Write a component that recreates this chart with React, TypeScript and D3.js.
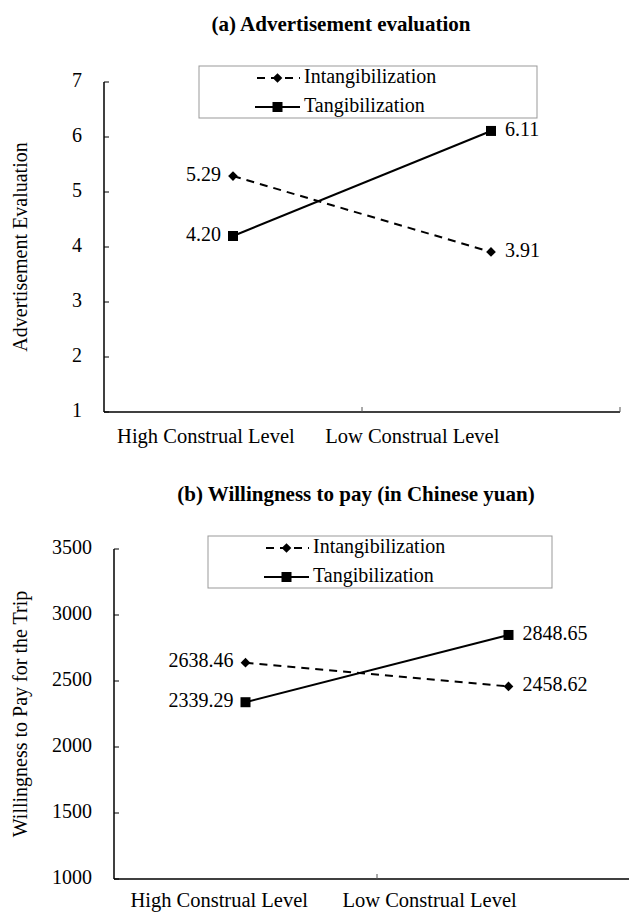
import React, { useEffect, useRef } from "react";
import * as d3 from "d3";

const categories = ["High Construal Level", "Low Construal Level"];
const seriesNames = ["Intangibilization", "Tangibilization"];

// panel (a)
const adIntangible = [5.29, 3.91];
const adTangible = [4.2, 6.11];
const adTicks = [1, 2, 3, 4, 5, 6, 7];

// panel (b)
const payIntangible = [2638.46, 2458.62];
const payTangible = [2339.29, 2848.65];
const payTicks = [1000, 1500, 2000, 2500, 3000, 3500];

const FONT = "'Liberation Serif', 'Times New Roman', serif";

const drawPanel = (svg, opt) => {
  const g = svg.append("g");
  const x = d3.scaleBand().domain(categories).range([opt.x0, opt.x1]).padding(0);
  const y = d3.scaleLinear().domain(opt.domain).range([opt.yBottom, opt.yTop]);
  const cx = d => x(d) + x.bandwidth() / 2;
  const fmt = d3.format(".2f");

  // title
  g.append("text")
    .attr("x", opt.titleX)
    .attr("y", opt.titleY)
    .attr("text-anchor", "middle")
    .attr("dominant-baseline", "middle")
    .style("font-family", FONT)
    .style("font-weight", "bold")
    .style("font-size", "21px")
    .text(opt.title);

  // y axis
  g.append("line")
    .attr("x1", opt.x0).attr("x2", opt.x0)
    .attr("y1", y(opt.domain[1])).attr("y2", y(opt.domain[0]))
    .attr("stroke", "#000").attr("stroke-width", 1.5);
  g.selectAll("line.ytick").data(opt.ticks).enter().append("line")
    .attr("class", "ytick")
    .attr("x1", opt.x0).attr("x2", opt.x0 + 5)
    .attr("y1", d => y(d)).attr("y2", d => y(d))
    .attr("stroke", "#000").attr("stroke-width", 1);
  g.selectAll("text.ylab").data(opt.ticks).enter().append("text")
    .attr("class", "ylab")
    .attr("x", opt.x0 - 22)
    .attr("y", d => y(d))
    .attr("text-anchor", "end")
    .attr("dominant-baseline", "middle")
    .style("font-family", FONT)
    .style("font-size", "20px")
    .text(d => d);

  // x axis
  g.append("line")
    .attr("x1", opt.x0).attr("x2", opt.x1)
    .attr("y1", opt.yBottom).attr("y2", opt.yBottom)
    .attr("stroke", "#000").attr("stroke-width", 1.5);
  const bounds = [opt.x0 + x.bandwidth(), opt.x1];
  g.selectAll("line.xtick").data(bounds).enter().append("line")
    .attr("class", "xtick")
    .attr("x1", d => d).attr("x2", d => d)
    .attr("y1", opt.yBottom).attr("y2", opt.yBottom - 5)
    .attr("stroke", "#555").attr("stroke-width", 1);
  // category labels sit left of the band centres, as in the source
  g.selectAll("text.xlab").data(categories).enter().append("text")
    .attr("class", "xlab")
    .attr("x", (d, i) => x(d) + x.bandwidth() * opt.xLabelPos[i])
    .attr("y", opt.yBottom + opt.xLabelDy)
    .attr("text-anchor", "middle")
    .attr("dominant-baseline", "middle")
    .style("font-family", FONT)
    .style("font-size", "20.5px")
    .text(d => d);

  // y axis title
  g.append("text")
    .attr("transform", `translate(22,${(opt.yTop + opt.yBottom) / 2}) rotate(-90)`)
    .attr("text-anchor", "middle")
    .attr("dominant-baseline", "middle")
    .style("font-family", FONT)
    .style("font-size", "20px")
    .text(opt.yTitle);

  const line = d3.line().x((d, i) => cx(categories[i])).y(d => y(d));
  const series = [
    { values: opt.intangible, dash: "8,6", marker: "diamond" },
    { values: opt.tangible, dash: null, marker: "square" }
  ];

  series.forEach(s => {
    g.append("path")
      .attr("d", line(s.values))
      .attr("fill", "none")
      .attr("stroke", "#000")
      .attr("stroke-width", 2)
      .attr("stroke-dasharray", s.dash);
    s.values.forEach((v, i) => {
      const px = cx(categories[i]);
      const py = y(v);
      if (s.marker === "square") {
        g.append("rect")
          .attr("x", px - 5).attr("y", py - 5)
          .attr("width", 10).attr("height", 10)
          .attr("fill", "#000");
      } else {
        g.append("path")
          .attr("d", d3.symbol(d3.symbolDiamond2, 60)())
          .attr("transform", `translate(${px},${py})`)
          .attr("fill", "#000");
      }
      g.append("text")
        .attr("x", i === 0 ? px - 12 : px + 14)
        .attr("y", py)
        .attr("text-anchor", i === 0 ? "end" : "start")
        .attr("dominant-baseline", "middle")
        .style("font-family", FONT)
        .style("font-size", "20px")
        .text(fmt(v));
    });
  });

  // legend
  const lg = g.append("g").attr("transform", `translate(${opt.legendX},${opt.legendY})`);
  lg.append("rect")
    .attr("width", opt.legendW).attr("height", 52)
    .attr("fill", "#fff").attr("stroke", "#999").attr("stroke-width", 1);
  seriesNames.forEach((name, i) => {
    const ry = 12 + i * 29;
    lg.append("line")
      .attr("x1", 56).attr("x2", 101)
      .attr("y1", ry).attr("y2", ry)
      .attr("stroke", "#000").attr("stroke-width", 2)
      .attr("stroke-dasharray", i === 0 ? "8,6" : null)
      .attr("stroke-dashoffset", i === 0 ? -2 : 0);
    if (i === 0) {
      lg.append("path")
        .attr("d", d3.symbol(d3.symbolDiamond2, 60)())
        .attr("transform", `translate(78.5,${ry})`)
        .attr("fill", "#000");
    } else {
      lg.append("rect")
        .attr("x", 73.5).attr("y", ry - 5)
        .attr("width", 10).attr("height", 10)
        .attr("fill", "#000");
    }
    lg.append("text")
      .attr("x", 105)
      .attr("y", ry)
      .attr("dominant-baseline", "middle")
      .style("font-family", FONT)
      .style("font-size", "20px")
      .text(name);
  });
};

const App = () => {
  const ref = useRef(null);

  useEffect(() => {
    const svg = d3.select(ref.current);
    svg.selectAll("*").remove();

    drawPanel(svg, {
      title: "(a) Advertisement evaluation",
      titleX: 341, titleY: 26,
      yTitle: "Advertisement Evaluation",
      x0: 104, x1: 620,
      yTop: 82, yBottom: 412,
      domain: [1, 7], ticks: adTicks,
      intangible: adIntangible, tangible: adTangible,
      xLabelDy: 26, xLabelPos: [0.395, 0.195],
      legendX: 199, legendY: 66, legendW: 338
    });

    drawPanel(svg, {
      title: "(b) Willingness to pay (in Chinese yuan)",
      titleX: 356, titleY: 496,
      yTitle: "Willingness to Pay for the Trip",
      x0: 114, x1: 640,
      yTop: 549, yBottom: 879,
      domain: [1000, 3500], ticks: payTicks,
      intangible: payIntangible, tangible: payTangible,
      xLabelDy: 23, xLabelPos: [0.4, 0.2],
      legendX: 208, legendY: 536, legendW: 344
    });
  }, []);

  return (
    <svg
      ref={ref}
      width={629}
      height={912}
      style={{ position: "absolute", left: 0, top: 0, background: "#fff" }}
    />
  );
};

export default App;
